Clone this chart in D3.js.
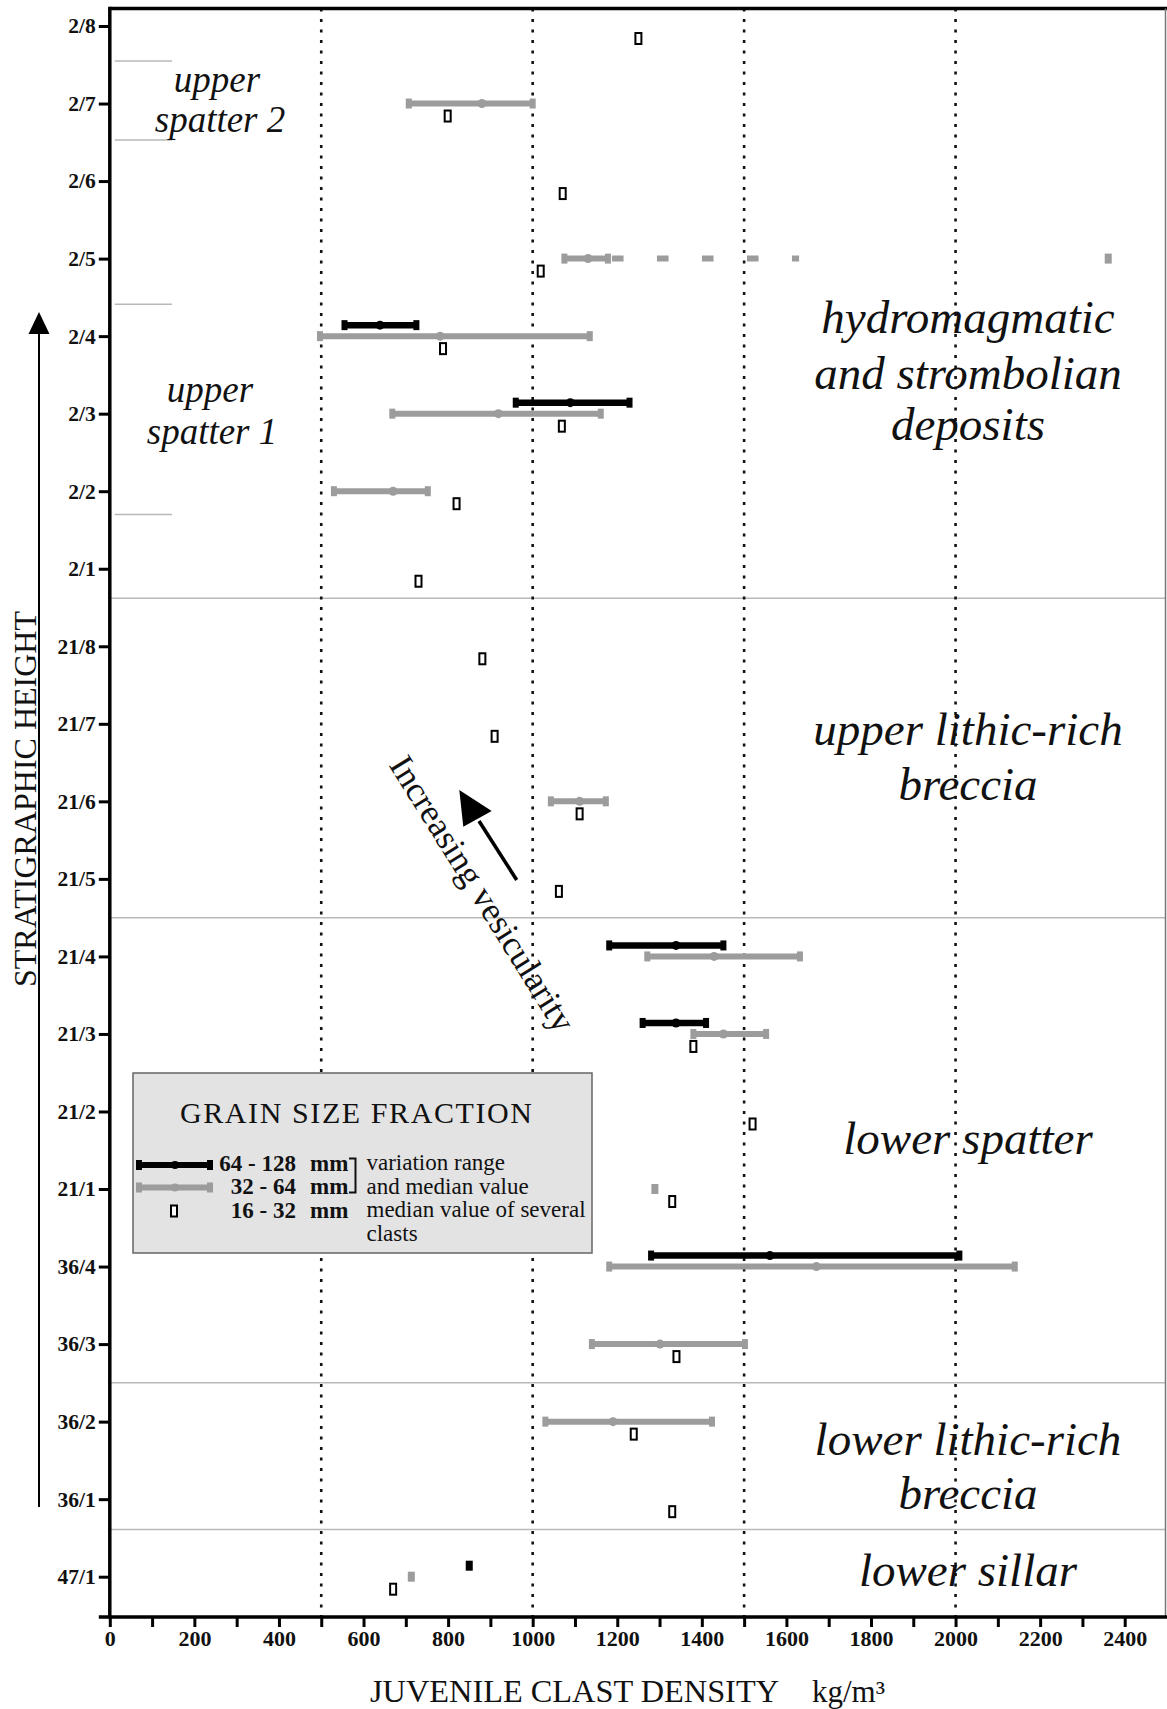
<!DOCTYPE html>
<html><head><meta charset="utf-8">
<script src="https://cdn.jsdelivr.net/npm/d3@7"></script>
<style>html,body{margin:0;padding:0;background:#fff}svg{display:block}</style>
</head><body>
<svg id="chart" width="1167" height="1709"></svg>
<script>
// ---------------- DATA ----------------
const categories = ["2/8","2/7","2/6","2/5","2/4","2/3","2/2","2/1",
  "21/8","21/7","21/6","21/5","21/4","21/3","21/2","21/1",
  "36/4","36/3","36/2","36/1","47/1"];

// 64-128 mm fraction: variation range and median (kg/m3)
const coarseSamples = ["2/4","2/3","21/4","21/3","36/4","47/1"];
const coarseMin     = [555, 960, 1181, 1260, 1280, 850];
const coarseMedian  = [639, 1089, 1339, 1339, 1561, 850];
const coarseMax     = [725, 1229, 1451, 1410, 2009, 850];

// 32-64 mm fraction: variation range and median (kg/m3)
const mediumSamples = ["2/7","2/5","2/4","2/3","2/2","21/6","21/4","21/3","21/1","36/4","36/3","36/2","47/1"];
const mediumMin     = [707, 1075, 497, 668, 530, 1043, 1271, 1380, 1289, 1181, 1140, 1030, 713];
const mediumMedian  = [880, 1131, 781, 919, 670, 1111, 1429, 1451, 1289, 1671, 1301, 1190, 713];
const mediumMax     = [1000, 2361, 1135, 1161, 752, 1173, 1632, 1552, 1289, 2140, 1502, 1424, 713];
// sample whose range is drawn broken: solid, then dashed, then gap to the max
const brokenSample = "2/5";
const brokenSolidTo = 1178;
const brokenDashedTo = 1630;

// 16-32 mm fraction: median value of several clasts (kg/m3)
const fineSamples = ["2/8","2/7","2/6","2/5","2/4","2/3","2/2","2/1","21/8","21/7","21/6","21/5","21/3","21/2","21/1","36/3","36/2","36/1","47/1"];
const fineMedian  = [1250, 799, 1071, 1019, 788, 1069, 820, 730, 881, 910, 1111, 1062, 1380, 1520, 1330, 1340, 1239, 1330, 670];

const xTicks = d3.range(0, 2401, 100);
const xTickLabels = d3.range(0, 2401, 200);
const referenceDensities = [500, 1000, 1500, 2000];
// unit boundaries, in sample-index units (0 = "2/8")
const unitBoundaries = [7.38, 11.5, 17.5, 19.39];
const subUnitBoundaries = [0.45, 1.47, 3.59, 6.30];

const unitLabelLines = [
  "hydromagmatic", "and strombolian", "deposits",
  "upper lithic-rich", "breccia",
  "lower spatter",
  "lower lithic-rich", "breccia",
  "lower sillar"];
const subUnitLabelLines = ["upper", "spatter 2", "upper", "spatter 1"];

// ---------------- LAYOUT ----------------
const W = 1167, H = 1709;
const plotLeft = 109.8, plotRight = 1165.5, plotTop = 8.5, plotBottom = 1617;
const unitLabelY = [333, 388.5, 440, 744.5, 800, 1154, 1455, 1508.5, 1585.5];
const subUnitLabelPos = [[217, 92], [220, 132], [210, 402], [212, 444]];
const SERIF = "'Liberation Serif','Times New Roman',Times,serif";
const GRAY = "#9c9c9c";

const svg = d3.select("#chart");
svg.append("rect").attr("width", W).attr("height", H).attr("fill", "#fff");

const x = d3.scaleLinear().domain([0, 2500]).range([plotLeft, 1167]);
const y = d3.scalePoint().domain(categories).range([26, 1576.7]);
const yIdx = d3.scaleLinear().domain([0, categories.length - 1]).range([26, 1576.7]);

// unit separators
svg.append("g").selectAll("line").data(unitBoundaries).join("line")
  .attr("x1", plotLeft).attr("x2", plotRight)
  .attr("y1", d => yIdx(d)).attr("y2", d => yIdx(d))
  .attr("stroke", "#b9b9b9").attr("stroke-width", 1.5);
svg.append("g").selectAll("line").data(subUnitBoundaries).join("line")
  .attr("x1", plotLeft + 5).attr("x2", 172)
  .attr("y1", d => yIdx(d)).attr("y2", d => yIdx(d))
  .attr("stroke", "#b9b9b9").attr("stroke-width", 1.5);

// unit labels
svg.append("g").selectAll("text").data(unitLabelLines).join("text")
  .attr("x", 968).attr("y", (d, i) => unitLabelY[i])
  .attr("text-anchor", "middle")
  .attr("font-family", SERIF).attr("font-style", "italic").attr("font-size", 47)
  .attr("fill", "#111").text(d => d);
svg.append("g").selectAll("text").data(subUnitLabelLines).join("text")
  .attr("x", (d, i) => subUnitLabelPos[i][0]).attr("y", (d, i) => subUnitLabelPos[i][1])
  .attr("text-anchor", "middle")
  .attr("font-family", SERIF).attr("font-style", "italic").attr("font-size", 37)
  .attr("fill", "#111").text(d => d);

// dotted reference lines
svg.append("g").selectAll("line").data(referenceDensities).join("line")
  .attr("x1", d => x(d)).attr("x2", d => x(d))
  .attr("y1", plotTop).attr("y2", plotBottom)
  .attr("stroke", "#111").attr("stroke-width", 2.6).attr("stroke-dasharray", "3,7.5");

// ---------------- MARKS ----------------
const marks = svg.append("g");
function cap(g, cx, cy, color, w = 6, h = 10) {
  g.append("rect").attr("x", cx - w / 2).attr("y", cy - h / 2).attr("width", w).attr("height", h).attr("fill", color);
}
function rangeBar(g, xmin, xmed, xmax, cy, color, sw = 6) {
  if (xmin === xmax) { cap(g, x(xmin), cy, color, 7, 10); return; }
  g.append("line").attr("x1", x(xmin)).attr("x2", x(xmax)).attr("y1", cy).attr("y2", cy)
    .attr("stroke", color).attr("stroke-width", sw);
  cap(g, x(xmin), cy, color); cap(g, x(xmax), cy, color);
  g.append("circle").attr("cx", x(xmed)).attr("cy", cy).attr("r", 4.5).attr("fill", color);
}

// 32-64 mm (gray)
mediumSamples.forEach((s, i) => {
  const cy = y(s);
  if (s === brokenSample) {
    marks.append("line").attr("x1", x(mediumMin[i])).attr("x2", x(brokenSolidTo)).attr("y1", cy).attr("y2", cy)
      .attr("stroke", GRAY).attr("stroke-width", 6);
    cap(marks, x(mediumMin[i]), cy, GRAY); cap(marks, x(brokenSolidTo), cy, GRAY);
    marks.append("circle").attr("cx", x(mediumMedian[i])).attr("cy", cy).attr("r", 4.5).attr("fill", GRAY);
    marks.append("line").attr("x1", x(brokenSolidTo) + 4).attr("x2", x(brokenDashedTo)).attr("y1", cy).attr("y2", cy)
      .attr("stroke", GRAY).attr("stroke-width", 6).attr("stroke-dasharray", "11.6,33.4");
    cap(marks, x(mediumMax[i]), cy, GRAY, 7, 10);
  } else {
    rangeBar(marks, mediumMin[i], mediumMedian[i], mediumMax[i], cy, GRAY);
  }
});
// 64-128 mm (black)
coarseSamples.forEach((s, i) => {
  rangeBar(marks, coarseMin[i], coarseMedian[i], coarseMax[i], y(s) - 11, "#000", 6.5);
});
// 16-32 mm (hollow)
marks.append("g").selectAll("rect").data(fineSamples).join("rect")
  .attr("x", (d, i) => x(fineMedian[i]) - 3).attr("y", d => y(d) + 12.5 - 5.5)
  .attr("width", 6).attr("height", 11)
  .attr("fill", "#fff").attr("stroke", "#000").attr("stroke-width", 2);

// ---------------- ANNOTATIONS ----------------
// left stratigraphic arrow
svg.append("line").attr("x1", 39).attr("x2", 39).attr("y1", 1507).attr("y2", 330)
  .attr("stroke", "#000").attr("stroke-width", 2);
svg.append("path").attr("d", "M39,312 L28.5,334 L49.5,334 Z").attr("fill", "#000");

// increasing vesicularity arrow
svg.append("line").attr("x1", 516.7).attr("y1", 880).attr("x2", 479).attr("y2", 821)
  .attr("stroke", "#000").attr("stroke-width", 3.6);
svg.append("path").attr("d", "M459.3,790 L463.3,826.7 L491.7,811 Z").attr("fill", "#000");
svg.append("text").attr("transform", "translate(388.3,765) rotate(58)")
  .attr("font-family", SERIF).attr("font-size", 35).attr("fill", "#111")
  .text("Increasing vesicularity");

// ---------------- LEGEND ----------------
const lg = svg.append("g");
lg.append("rect").attr("x", 133).attr("y", 1073).attr("width", 459).attr("height", 180)
  .attr("fill", "#e3e3e3").attr("stroke", "#666").attr("stroke-width", 1.5);
lg.append("text").attr("x", 180).attr("y", 1123).attr("textLength", 352).attr("lengthAdjust", "spacing")
  .attr("font-family", SERIF).attr("font-size", 30).attr("fill", "#111").text("GRAIN SIZE FRACTION");
// black legend line
lg.append("line").attr("x1", 139).attr("x2", 210).attr("y1", 1165).attr("y2", 1165).attr("stroke", "#000").attr("stroke-width", 6);
cap(lg, 139, 1165, "#000"); cap(lg, 210, 1165, "#000");
lg.append("circle").attr("cx", 175).attr("cy", 1165).attr("r", 4).attr("fill", "#000");
// gray legend line
lg.append("line").attr("x1", 139).attr("x2", 210).attr("y1", 1187.5).attr("y2", 1187.5).attr("stroke", GRAY).attr("stroke-width", 6);
cap(lg, 139, 1187.5, GRAY); cap(lg, 210, 1187.5, GRAY);
lg.append("circle").attr("cx", 175).attr("cy", 1187.5).attr("r", 4).attr("fill", GRAY);
// hollow square
lg.append("rect").attr("x", 171).attr("y", 1205.5).attr("width", 6).attr("height", 11)
  .attr("fill", "#fff").attr("stroke", "#000").attr("stroke-width", 2);
const legendSizes = ["64 - 128", "32 - 64", "16 - 32"];
const legendBase = [1171, 1194, 1217.5];
legendSizes.forEach((t, i) => {
  lg.append("text").attr("x", 296).attr("y", legendBase[i]).attr("text-anchor", "end")
    .attr("font-family", SERIF).attr("font-weight", "bold").attr("font-size", 23).attr("fill", "#111").text(t);
  lg.append("text").attr("x", 310).attr("y", legendBase[i])
    .attr("font-family", SERIF).attr("font-weight", "bold").attr("font-size", 23).attr("fill", "#111").text("mm");
});
lg.append("path").attr("d", "M349,1158.5 H355.5 V1192.5 H349").attr("fill", "none").attr("stroke", "#111").attr("stroke-width", 2);
const legendDesc = ["variation range", "and median value", "median value of several", "clasts"];
const legendDescBase = [1170, 1193.5, 1217, 1240.5];
legendDesc.forEach((t, i) => {
  lg.append("text").attr("x", 366.5).attr("y", legendDescBase[i])
    .attr("font-family", SERIF).attr("font-size", 23).attr("fill", "#111").text(t);
});

// ---------------- AXES ----------------
const yAxis = svg.append("g").attr("transform", `translate(${plotLeft},0)`)
  .call(d3.axisLeft(y).tickSize(11).tickPadding(3));
yAxis.select(".domain").remove();
yAxis.selectAll(".tick line").attr("stroke", "#000").attr("stroke-width", 3);
yAxis.selectAll(".tick text").attr("font-family", SERIF).attr("font-weight", "bold")
  .attr("font-size", 21.5).attr("fill", "#111");

const xAxis = svg.append("g").attr("transform", `translate(0,${plotBottom})`)
  .call(d3.axisBottom(x).tickValues(xTicks).tickSize(10).tickPadding(3)
    .tickFormat(d => xTickLabels.includes(d) ? d : ""));
xAxis.select(".domain").remove();
xAxis.selectAll(".tick line").attr("stroke", "#000").attr("stroke-width", 3);
xAxis.selectAll(".tick text").attr("font-family", SERIF).attr("font-weight", "bold")
  .attr("font-size", 22).attr("fill", "#111");

// frame
svg.append("line").attr("x1", plotLeft).attr("x2", W).attr("y1", plotTop).attr("y2", plotTop)
  .attr("stroke", "#000").attr("stroke-width", 3.5);
svg.append("line").attr("x1", plotRight).attr("x2", plotRight).attr("y1", plotTop).attr("y2", plotBottom)
  .attr("stroke", "#777").attr("stroke-width", 1.5);
svg.append("line").attr("x1", plotLeft).attr("x2", plotLeft).attr("y1", plotTop - 1.75).attr("y2", plotBottom + 1.75)
  .attr("stroke", "#000").attr("stroke-width", 3.5);
svg.append("line").attr("x1", 98.8).attr("x2", W).attr("y1", plotBottom).attr("y2", plotBottom)
  .attr("stroke", "#000").attr("stroke-width", 3.5);

// axis titles
svg.append("text").attr("x", 370).attr("y", 1702).attr("textLength", 409).attr("lengthAdjust", "spacingAndGlyphs")
  .attr("font-family", SERIF).attr("font-size", 31).attr("fill", "#111").text("JUVENILE CLAST DENSITY");
svg.append("text").attr("x", 812).attr("y", 1702)
  .attr("font-family", SERIF).attr("font-size", 31).attr("fill", "#111").text("kg/m³");
svg.append("text").attr("transform", "translate(36,799) rotate(-90)").attr("text-anchor", "middle")
  .attr("font-family", SERIF).attr("font-size", 32).attr("fill", "#111").text("STRATIGRAPHIC HEIGHT");
</script>
</body></html>
